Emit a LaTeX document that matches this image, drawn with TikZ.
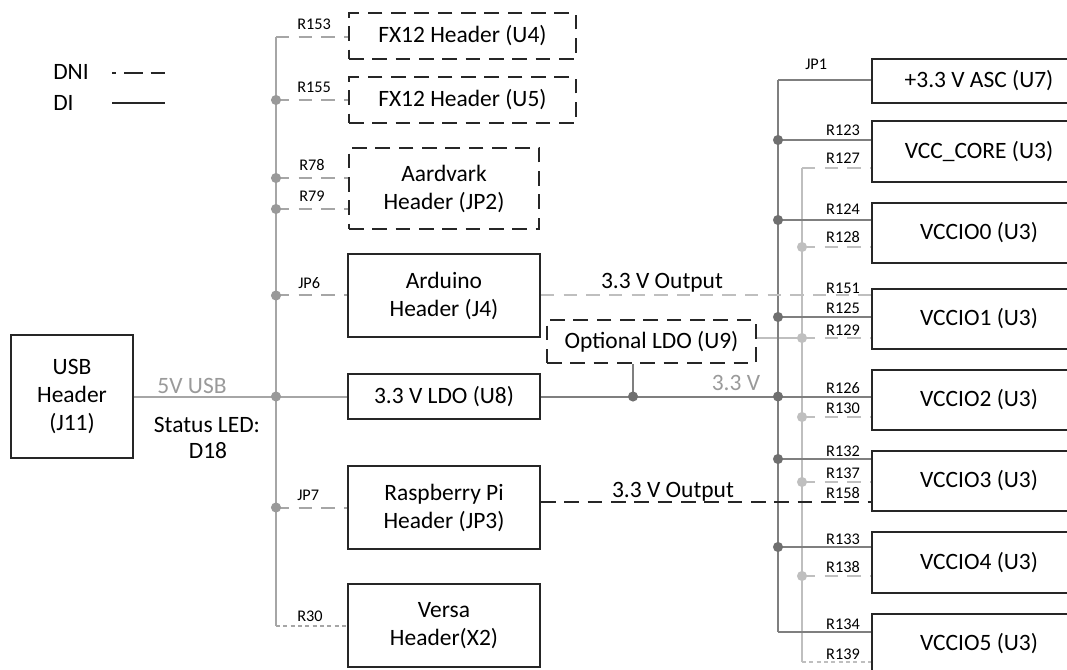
\documentclass[tikz,border=0pt]{standalone}
\usepackage{fontspec}
\setmainfont{Carlito}
\newcommand\mainfs{\fontsize{17.6}{21}\selectfont}
\newcommand\lblfs{\fontsize{12.2}{14}\selectfont}
\definecolor{lgray}{HTML}{A6A6A6}
\definecolor{ldot}{HTML}{999999}
\definecolor{dgray}{HTML}{7F7F7F}
\definecolor{ddot}{HTML}{6F6F6F}
\definecolor{pgray}{HTML}{BFBFBF}
\definecolor{txtgray}{HTML}{9A9A9A}
\definecolor{boxc}{HTML}{262626}
\begin{document}
\begin{tikzpicture}[x=0.75pt,y=-0.75pt,
  wh/.style 2 args={minimum width=#1*0.75pt,minimum height=#2*0.75pt},
  box/.style={draw=boxc,line width=1.5pt,inner sep=0pt,align=center,font=\mainfs},
  dbox/.style={box,dash pattern=on 11pt off 6.5pt},
  lbus/.style={draw=lgray,line width=1.5pt},
  ldash/.style={draw=lgray,line width=1.5pt,dash pattern=on 10pt off 7pt},
  ldot2/.style={draw=lgray,line width=1.5pt,dash pattern=on 3pt off 2.5pt},
  dline/.style={draw=dgray,line width=1.5pt},
  pline/.style={draw=pgray,line width=1.5pt},
  pdash/.style={draw=pgray,line width=1.5pt,dash pattern=on 10pt off 7pt},
  pdot2/.style={draw=pgray,line width=1.5pt,dash pattern=on 3pt off 2.5pt},
  kdash/.style={draw=boxc,line width=1.5pt,dash pattern=on 11pt off 6.5pt},
  ll/.style={font=\lblfs,anchor=base west,inner sep=0pt},
  rl/.style={font=\lblfs,anchor=base east,inner sep=0pt},
  txt/.style={font=\mainfs,inner sep=0pt,anchor=base}]
\useasboundingbox (0,0) rectangle (1067,670);
\clip (0,0) rectangle (1067,670);

% legend
\node[txt,anchor=base west] (dni) at (53,80) {DNI};
\node[txt,anchor=base west] (di) at (53,111) {DI};
\coordinate (dnia) at (112,73); \coordinate (dnib) at (165,73);
\coordinate (dia) at (112,103); \coordinate (dib) at (165,103);
\draw[boxc,line width=1.3pt,dash pattern=on 14pt off 6pt,dash phase=11pt] (dnia) -- (dnib);
\draw[boxc,line width=1.3pt] (dia) -- (dib);

% left boxes
\node[dbox,wh={227}{46}] (u4) at (462.5,36) {FX12 Header (U4)};
\node[dbox,wh={227}{46}] (u5) at (462.5,100) {FX12 Header (U5)};
\node[dbox,wh={190}{81}] (jp2) at (444,188.5) {Aardvark\\Header (JP2)};
\node[box,wh={192}{83}] (j4) at (444,295.5) {Arduino\\Header (J4)};
\node[box,wh={192}{45}] (u8) at (444,396.5) {3.3 V LDO (U8)};
\node[box,wh={192}{83}] (jp3) at (444,507.5) {Raspberry Pi\\Header (JP3)};
\node[box,wh={192}{83}] (x2) at (444,625.5) {Versa\\Header(X2)};
\node[box,wh={122}{123}] (usb) at (72,396.5) {USB\\Header\\(J11)};
\node[dbox,wh={209}{43}] (u9) at (651.5,341.5) {Optional LDO (U9)};

% right boxes
\node[box,wh={214}{44}] (u7) at (979,81) {+3.3 V ASC (U7)};
\node[box,wh={214}{61}] (core) at (979,151.5) {VCC\_CORE (U3)};
\node[box,wh={214}{60}] (io0) at (979,233) {VCCIO0 (U3)};
\node[box,wh={214}{60}] (io1) at (979,319) {VCCIO1 (U3)};
\node[box,wh={214}{60}] (io2) at (979,400) {VCCIO2 (U3)};
\node[box,wh={214}{60}] (io3) at (979,481) {VCCIO3 (U3)};
\node[box,wh={214}{61}] (io4) at (979,562.5) {VCCIO4 (U3)};
\node[box,wh={214}{60}] (io5) at (979,644) {VCCIO5 (U3)};

% left bus
\coordinate (lt) at (276,37);
\coordinate (lb) at (276,626);
\coordinate (l155) at (276,100);
\coordinate (l78) at (276,178);
\coordinate (l79) at (276,209);
\coordinate (ljp6) at (276,295.5);
\coordinate (l5v) at (276,396.5);
\coordinate (ljp7) at (276,507.5);
\draw[lbus] (lt) -- (lb);
\draw[ldash] (lt) -- (lt -| u4.west);
\draw[ldash] (l155) -- (l155 -| u5.west);
\draw[ldash] (l78) -- (l78 -| jp2.west);
\draw[ldash] (l79) -- (l79 -| jp2.west);
\draw[ldash] (ljp6) -- (j4.west);
\draw[lbus] (usb.east) -- (u8.west);
\draw[ldash] (ljp7) -- (jp3.west);
\draw[ldot2] (lb) -- (lb -| x2.west);
\foreach \c in {l155,l78,l79,ljp6,l5v,ljp7} \fill[ldot] (\c) circle (3.8pt);

\node[ll] (r153) at (297,30) {R153};
\node[ll] (r155) at (297,93) {R155};
\node[ll] (r78) at (299,171) {R78};
\node[ll] (r79) at (299,202) {R79};
\node[ll] (jp6) at (298,288) {JP6};
\node[ll] (jp7) at (297,500) {JP7};
\node[ll] (r30) at (297,621) {R30};

\node[txt,text=txtgray] (v5) at (192,393) {5V USB};
\node[txt] (led) at (207,432) {Status LED:};
\node[txt] (d18) at (208,458) {D18};

% right buses
\coordinate (dt) at (778,80);
\coordinate (db) at (778,632);
\coordinate (pt) at (802,168);
\coordinate (pb) at (802,662);
\coordinate (d123) at (778,140);
\coordinate (d124) at (778,220);
\coordinate (d125) at (778,317);
\coordinate (d126) at (778,396.5);
\coordinate (d132) at (778,459);
\coordinate (d133) at (778,547);
\coordinate (p128) at (802,247);
\coordinate (p129) at (802,338);
\coordinate (p130) at (802,417);
\coordinate (p137) at (802,482);
\coordinate (p138) at (802,576);
\coordinate (ldo) at (633,396.5);

\draw[pline] (pt) -- (pb);
\draw[pdash] (pt) -- (pt -| core.west);
\draw[pdash] (p128) -- (p128 -| io0.west);
\draw[pline] (u9.east |- p129) -- (p129);
\draw[pdash] (p129) -- (p129 -| io1.west);
\draw[pdash] (p130) -- (p130 -| io2.west);
\draw[pdash] (p137) -- (p137 -| io3.west);
\draw[pdash] (p138) -- (p138 -| io4.west);
\draw[pdot2] (pb) -- (pb -| io5.west);
\foreach \c in {p128,p129,p130,p137,p138} \fill[pgray] (\c) circle (3.8pt);

\draw[dline] (dt) -- (db);
\draw[dline] (dt) -- (dt -| u7.west);
\draw[dline] (d123) -- (d123 -| core.west);
\draw[dline] (d124) -- (d124 -| io0.west);
\draw[dline] (d125) -- (d125 -| io1.west);
\draw[dline] (u8.east) -- (u8.east -| io2.west);
\draw[dline] (u9.south -| ldo) -- (ldo);
\draw[dline] (d132) -- (d132 -| io3.west);
\draw[dline] (d133) -- (d133 -| io4.west);
\draw[dline] (db) -- (db -| io5.west);
\foreach \c in {d123,d124,d125,d126,d132,d133,ldo} \fill[ddot] (\c) circle (3.8pt);

\draw[pdash] (j4.east) -- (j4.east -| io1.west);
\draw[kdash] ([yshift=4.1pt]jp3.east) -- ([yshift=4.1pt]jp3.east -| io3.west);

\node[txt] (out1) at (662,289) {3.3 V Output};
\node[txt] (out2) at (673,497) {3.3 V Output};
\node[txt,text=txtgray] (v33) at (736,390) {3.3 V};

\node[ll] (jp1) at (805,70) {JP1};
\node[rl] (r123) at (860,136) {R123};
\node[rl] (r127) at (860,164) {R127};
\node[rl] (r124) at (860,215) {R124};
\node[rl] (r128) at (860,243) {R128};
\node[rl] (r151) at (860,294) {R151};
\node[rl] (r125) at (860,314) {R125};
\node[rl] (r129) at (860,335) {R129};
\node[rl] (r126) at (860,393) {R126};
\node[rl] (r130) at (860,413) {R130};
\node[rl] (r132) at (860,456) {R132};
\node[rl] (r137) at (860,478) {R137};
\node[rl] (r158) at (860,498) {R158};
\node[rl] (r133) at (860,544) {R133};
\node[rl] (r138) at (860,572) {R138};
\node[rl] (r134) at (860,629) {R134};
\node[rl] (r139) at (860,659) {R139};
\end{tikzpicture}
\end{document}
